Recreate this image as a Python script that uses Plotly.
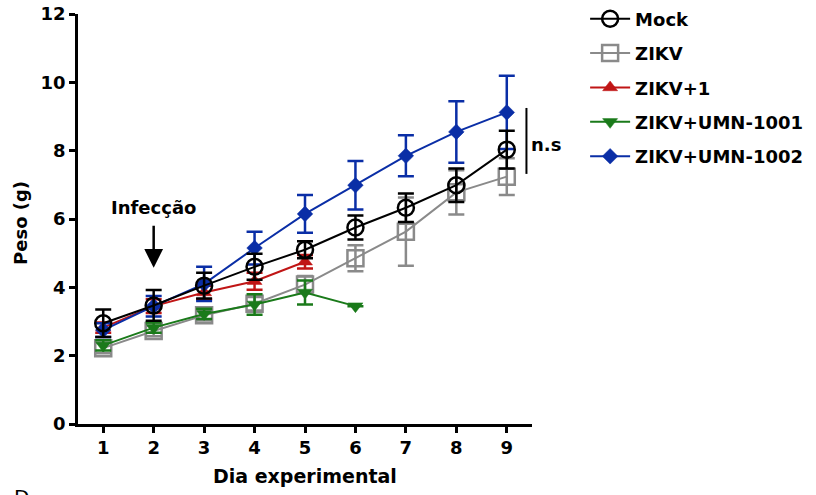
import plotly.graph_objects as go

days = [1, 2, 3, 4, 5, 6, 7, 8, 9]

mock = [2.95, 3.47, 4.05, 4.60, 5.10, 5.75, 6.33, 6.99, 8.03]
mock_err = [0.40, 0.45, 0.38, 0.38, 0.25, 0.35, 0.42, 0.49, 0.55]

zikv = [2.22, 2.72, 3.18, 3.52, 4.08, 4.85, 5.63, 6.78, 7.24]
zikv_err = [0.15, 0.15, 0.15, 0.20, 0.25, 0.38, 1.00, 0.65, 0.54]

zikv1_days = [1, 2, 3, 4, 5]
zikv1 = [2.82, 3.45, 3.85, 4.18, 4.75]
zikv1_err = [0.15, 0.20, 0.20, 0.25, 0.20]

umn1001_days = [1, 2, 3, 4, 5, 6]
umn1001 = [2.30, 2.82, 3.22, 3.50, 3.85, 3.45]
umn1001_err = [0.15, 0.15, 0.15, 0.30, 0.35, 0.0]

umn1002 = [2.75, 3.45, 4.10, 5.15, 6.15, 6.99, 7.85, 8.55, 9.12]
umn1002_err = [0.20, 0.30, 0.50, 0.48, 0.55, 0.71, 0.60, 0.90, 1.07]

FONT = "DejaVu Sans, sans-serif"

def trace(name, x, y, err, color, symbol, size, rank, lw=2):
    return go.Scatter(
        x=x, y=y, name=name, mode="lines+markers",
        line=dict(color=color, width=lw),
        marker=dict(symbol=symbol, size=size, color=color,
                    line=dict(color=color, width=2.5 if "open" in symbol else 0.5)),
        error_y=dict(type="data", array=err, visible=True, color=color,
                     thickness=2.5, width=8),
        legendrank=rank, legendgroup=name,
    )

fig = go.Figure()
fig.add_trace(trace("ZIKV", days, zikv, zikv_err, "#8a8a8a", "square-open", 16, 2))
fig.add_trace(trace("ZIKV+UMN-1001", umn1001_days, umn1001, umn1001_err, "#1a7a1a", "triangle-down", 13, 4))
fig.add_trace(trace("ZIKV+1", zikv1_days, zikv1, zikv1_err, "#c01515", "triangle-up", 13, 3))
fig.add_trace(trace("ZIKV+UMN-1002", days, umn1002, umn1002_err, "#0a2ea6", "diamond", 12, 5))
fig.add_trace(trace("Mock", days, mock, mock_err, "#000000", "circle-open", 16, 1))

fig.add_annotation(
    x=2, y=4.57, xref="x", yref="y", ax=0, ay=-60,
    text="Infecção", showarrow=True, arrowhead=2, arrowsize=1.5,
    arrowwidth=2.5, arrowcolor="#000000", startstandoff=6,
    font=dict(family=FONT, size=18, color="#000000", weight="bold"),
)

fig.add_shape(type="line", xref="x", yref="y", x0=9.39, x1=9.39, y0=7.32, y1=9.25,
              line=dict(color="#000000", width=2))
fig.add_annotation(x=9.45, y=8.17, xref="x", yref="y", text="n.s", showarrow=False,
                   xanchor="left",
                   font=dict(family=FONT, size=18, color="#000000", weight="bold"))

# axis titles as annotations
fig.add_annotation(x=-0.128, y=0.49, xref="paper", yref="paper", text="Peso (g)",
                   textangle=-90, showarrow=False, xanchor="center", yanchor="middle",
                   font=dict(family=FONT, size=18, color="#000000", weight="bold"))
fig.add_annotation(x=0.5, y=-0.127, xref="paper", yref="paper", text="Dia experimental",
                   showarrow=False, xanchor="center", yanchor="middle",
                   font=dict(family=FONT, size=19, color="#000000", weight="bold"))

fig.add_annotation(x=-0.145, y=-0.145, xref="paper", yref="paper", text="D",
                   showarrow=False, xanchor="left", yanchor="top",
                   font=dict(family=FONT, size=20, color="#000000"))

axis_common = dict(
    showline=True, linecolor="#000000", linewidth=2.5, showgrid=False, zeroline=False,
    ticks="outside", ticklen=6, tickwidth=2.5, tickcolor="#000000", automargin=False,
    tickfont=dict(family=FONT, size=18, color="#000000", weight="bold"),
)

fig.update_xaxes(range=[0.5, 9.5], tickvals=days, **axis_common)
fig.update_yaxes(range=[0, 12], tickvals=[0, 2, 4, 6, 8, 10, 12], **axis_common)

fig.update_layout(
    width=816, height=495,
    margin=dict(l=78, r=284, t=14, b=71, autoexpand=False),
    plot_bgcolor="white", paper_bgcolor="white",
    legend=dict(x=1.117, y=1.033, xanchor="left", yanchor="top",
                font=dict(family=FONT, size=18, color="#000000", weight="bold"),
                bgcolor="rgba(0,0,0,0)", itemwidth=40, tracegroupgap=8),
    showlegend=True,
)

fig.write_html("out.html")
